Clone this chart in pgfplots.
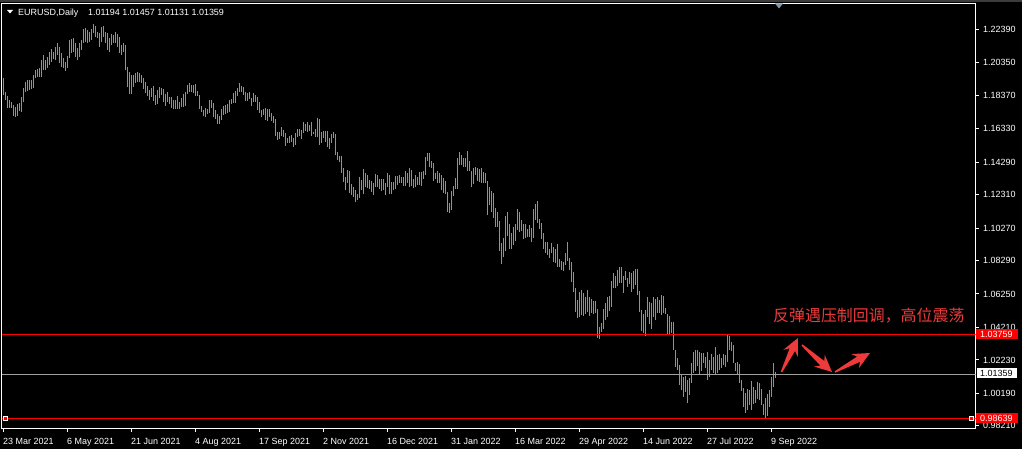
\documentclass[border=0pt]{standalone}
\usepackage{fontspec}
\setmainfont{Liberation Sans}
\newfontfamily\cjk{Noto Sans CJK SC}
\usepackage{pgfplots}
\usepackage{pgfplotstable}
\pgfplotsset{compat=1.18}
\usetikzlibrary{calc}
\definecolor{barcol}{RGB}{50,215,40}
\definecolor{annred}{RGB}{238,58,58}
\definecolor{hlgray}{RGB}{160,160,160}
\definecolor{stripgray}{RGB}{60,60,60}
\definecolor{markgray}{RGB}{130,150,170}
\newcommand\tickfont{\fontsize{9}{10}\selectfont}
% tapered block arrow, tail -> tip
\newcommand\fatarrow[2]{%
  \fill[annred] ($(#1)!0.8bp!90:(#2)$) -- ($(#2)!13bp!(#1)!3bp!-90:(#1)$)
    -- ($(#2)!17bp!(#1)!8bp!-90:(#1)$) -- (#2)
    -- ($(#2)!17bp!(#1)!8bp!90:(#1)$) -- ($(#2)!13bp!(#1)!3bp!90:(#1)$)
    -- ($(#1)!0.8bp!-90:(#2)$) -- cycle;}

% daily bars, high / low
\pgfplotstableread[row sep=\\]{
hi lo\\
1.1942 1.1838\\ 1.1857 1.1808\\ 1.1832 1.1759\\ 1.1808 1.1759\\ 1.1796 1.1759\\ 1.1777 1.1710\\ 1.1765 1.1704\\ 1.1784 1.1710\\ 1.1790 1.1741\\ 1.1826 1.1735\\
1.1881 1.1796\\ 1.1918 1.1857\\ 1.1930 1.1863\\ 1.1930 1.1869\\ 1.1930 1.1875\\ 1.1960 1.1881\\ 1.1991 1.1942\\ 1.1997 1.1948\\ 1.2003 1.1948\\ 1.2052 1.1948\\
1.2082 1.1991\\ 1.2052 1.1991\\ 1.2070 1.2003\\ 1.2101 1.2021\\ 1.2119 1.2040\\ 1.2101 1.2058\\ 1.2131 1.2052\\ 1.2156 1.2082\\ 1.2131 1.2034\\ 1.2095 1.2009\\
1.2064 1.2003\\ 1.2040 1.1985\\ 1.2076 1.2003\\ 1.2174 1.2064\\ 1.2180 1.2095\\ 1.2186 1.2101\\ 1.2156 1.2070\\ 1.2125 1.2052\\ 1.2156 1.2070\\ 1.2174 1.2113\\
1.2241 1.2156\\ 1.2247 1.2162\\ 1.2235 1.2156\\ 1.2223 1.2162\\ 1.2241 1.2174\\ 1.2272 1.2217\\ 1.2259 1.2192\\ 1.2223 1.2186\\ 1.2217 1.2131\\ 1.2253 1.2162\\
1.2259 1.2192\\ 1.2223 1.2156\\ 1.2217 1.2113\\ 1.2186 1.2101\\ 1.2211 1.2144\\ 1.2205 1.2156\\ 1.2223 1.2156\\ 1.2211 1.2131\\ 1.2192 1.2095\\ 1.2144 1.2082\\
1.2156 1.2101\\ 1.2144 1.1991\\ 1.2009 1.1887\\ 1.1979 1.1845\\ 1.1960 1.1845\\ 1.1960 1.1887\\ 1.1973 1.1912\\ 1.1979 1.1918\\ 1.1973 1.1918\\ 1.1960 1.1912\\
1.1942 1.1875\\ 1.1918 1.1851\\ 1.1894 1.1832\\ 1.1869 1.1808\\ 1.1881 1.1826\\ 1.1894 1.1802\\ 1.1838 1.1777\\ 1.1869 1.1784\\ 1.1887 1.1820\\ 1.1881 1.1838\\
1.1875 1.1796\\ 1.1845 1.1771\\ 1.1857 1.1796\\ 1.1826 1.1784\\ 1.1826 1.1759\\ 1.1808 1.1753\\ 1.1808 1.1753\\ 1.1832 1.1753\\ 1.1796 1.1753\\ 1.1820 1.1765\\
1.1845 1.1765\\ 1.1857 1.1771\\ 1.1900 1.1845\\ 1.1912 1.1857\\ 1.1900 1.1857\\ 1.1900 1.1851\\ 1.1906 1.1832\\ 1.1863 1.1832\\ 1.1838 1.1753\\ 1.1771 1.1735\\
1.1747 1.1710\\ 1.1759 1.1704\\ 1.1753 1.1723\\ 1.1808 1.1729\\ 1.1808 1.1759\\ 1.1790 1.1704\\ 1.1747 1.1692\\ 1.1723 1.1662\\ 1.1710 1.1662\\ 1.1753 1.1686\\
1.1771 1.1716\\ 1.1777 1.1723\\ 1.1784 1.1729\\ 1.1808 1.1735\\ 1.1814 1.1784\\ 1.1851 1.1790\\ 1.1863 1.1790\\ 1.1881 1.1832\\ 1.1912 1.1857\\ 1.1894 1.1857\\
1.1887 1.1838\\ 1.1857 1.1802\\ 1.1851 1.1802\\ 1.1857 1.1814\\ 1.1820 1.1771\\ 1.1851 1.1796\\ 1.1838 1.1796\\ 1.1826 1.1747\\ 1.1796 1.1729\\ 1.1747 1.1704\\
1.1753 1.1716\\ 1.1759 1.1686\\ 1.1753 1.1680\\ 1.1753 1.1704\\ 1.1729 1.1680\\ 1.1710 1.1668\\ 1.1692 1.1588\\ 1.1613 1.1564\\ 1.1613 1.1570\\ 1.1643 1.1588\\
1.1625 1.1582\\ 1.1607 1.1527\\ 1.1576 1.1546\\ 1.1588 1.1546\\ 1.1594 1.1552\\ 1.1576 1.1521\\ 1.1607 1.1533\\ 1.1631 1.1582\\ 1.1631 1.1588\\ 1.1625 1.1570\\
1.1674 1.1607\\ 1.1662 1.1619\\ 1.1674 1.1613\\ 1.1655 1.1619\\ 1.1674 1.1588\\ 1.1613 1.1601\\ 1.1631 1.1582\\ 1.1698 1.1582\\ 1.1692 1.1533\\ 1.1613 1.1546\\
1.1619 1.1576\\ 1.1619 1.1552\\ 1.1619 1.1521\\ 1.1576 1.1509\\ 1.1601 1.1546\\ 1.1613 1.1576\\ 1.1601 1.1472\\ 1.1491 1.1442\\ 1.1466 1.1430\\ 1.1466 1.1363\\
1.1393 1.1308\\ 1.1338 1.1259\\ 1.1381 1.1302\\ 1.1375 1.1241\\ 1.1296 1.1228\\ 1.1277 1.1216\\ 1.1259 1.1186\\ 1.1235 1.1198\\ 1.1338 1.1210\\ 1.1320 1.1259\\
1.1387 1.1235\\ 1.1363 1.1277\\ 1.1351 1.1271\\ 1.1320 1.1265\\ 1.1314 1.1247\\ 1.1302 1.1228\\ 1.1357 1.1277\\ 1.1351 1.1277\\ 1.1326 1.1265\\ 1.1326 1.1253\\
1.1326 1.1259\\ 1.1302 1.1228\\ 1.1363 1.1277\\ 1.1351 1.1235\\ 1.1308 1.1235\\ 1.1308 1.1259\\ 1.1344 1.1265\\ 1.1344 1.1290\\ 1.1351 1.1302\\ 1.1338 1.1302\\
1.1338 1.1283\\ 1.1375 1.1283\\ 1.1363 1.1302\\ 1.1393 1.1277\\ 1.1381 1.1283\\ 1.1326 1.1271\\ 1.1351 1.1277\\ 1.1338 1.1290\\ 1.1369 1.1290\\ 1.1369 1.1283\\
1.1375 1.1326\\ 1.1460 1.1351\\ 1.1485 1.1436\\ 1.1485 1.1399\\ 1.1436 1.1393\\ 1.1424 1.1314\\ 1.1363 1.1326\\ 1.1375 1.1302\\ 1.1363 1.1302\\ 1.1351 1.1259\\
1.1332 1.1241\\ 1.1314 1.1235\\ 1.1247 1.1125\\ 1.1180 1.1119\\ 1.1253 1.1137\\ 1.1283 1.1222\\ 1.1332 1.1265\\ 1.1454 1.1265\\ 1.1491 1.1412\\ 1.1472 1.1412\\
1.1454 1.1399\\ 1.1454 1.1399\\ 1.1497 1.1375\\ 1.1436 1.1375\\ 1.1375 1.1277\\ 1.1393 1.1296\\ 1.1399 1.1351\\ 1.1393 1.1314\\ 1.1387 1.1308\\ 1.1393 1.1302\\
1.1369 1.1302\\ 1.1363 1.1302\\ 1.1314 1.1107\\ 1.1277 1.1168\\ 1.1253 1.1125\\ 1.1241 1.1088\\ 1.1149 1.1033\\ 1.1125 1.1033\\ 1.1070 1.0887\\ 1.0936 1.0808\\
1.0966 1.0850\\ 1.1100 1.0887\\ 1.1125 1.0978\\ 1.1052 1.0899\\ 1.0997 1.0899\\ 1.1033 1.0924\\ 1.1052 1.0948\\ 1.1143 1.1015\\ 1.1125 1.1003\\ 1.1076 1.1009\\
1.1052 1.0960\\ 1.1052 1.0966\\ 1.1021 1.0972\\ 1.1046 1.0972\\ 1.1027 1.0942\\ 1.1143 1.0966\\ 1.1174 1.1076\\ 1.1192 1.1058\\ 1.1082 1.1021\\ 1.1058 1.0960\\
1.0997 1.0899\\ 1.0942 1.0875\\ 1.0942 1.0863\\ 1.0899 1.0844\\ 1.0936 1.0875\\ 1.0911 1.0820\\ 1.0899 1.0814\\ 1.0930 1.0789\\ 1.0838 1.0789\\ 1.0826 1.0771\\
1.0820 1.0765\\ 1.0875 1.0801\\ 1.0942 1.0826\\ 1.0844 1.0771\\ 1.0820 1.0698\\ 1.0759 1.0637\\ 1.0661 1.0515\\ 1.0588 1.0478\\ 1.0637 1.0484\\ 1.0649 1.0497\\
1.0631 1.0491\\ 1.0606 1.0503\\ 1.0649 1.0515\\ 1.0606 1.0491\\ 1.0594 1.0509\\ 1.0582 1.0503\\ 1.0582 1.0509\\ 1.0533 1.0356\\ 1.0423 1.0350\\ 1.0448 1.0393\\
1.0533 1.0411\\ 1.0570 1.0466\\ 1.0606 1.0484\\ 1.0612 1.0521\\ 1.0704 1.0545\\ 1.0753 1.0661\\ 1.0734 1.0661\\ 1.0771 1.0673\\ 1.0789 1.0692\\ 1.0789 1.0692\\
1.0734 1.0631\\ 1.0765 1.0710\\ 1.0722 1.0667\\ 1.0759 1.0686\\ 1.0753 1.0637\\ 1.0765 1.0655\\ 1.0777 1.0680\\ 1.0777 1.0618\\ 1.0643 1.0515\\ 1.0527 1.0399\\
1.0503 1.0387\\ 1.0527 1.0369\\ 1.0606 1.0484\\ 1.0576 1.0442\\ 1.0570 1.0411\\ 1.0606 1.0484\\ 1.0594 1.0466\\ 1.0606 1.0509\\ 1.0588 1.0509\\ 1.0618 1.0497\\
1.0612 1.0509\\ 1.0539 1.0503\\ 1.0503 1.0374\\ 1.0491 1.0374\\ 1.0454 1.0387\\ 1.0454 1.0283\\ 1.0283 1.0179\\ 1.0234 1.0161\\ 1.0192 1.0069\\ 1.0130 1.0039\\
1.0118 0.9996\\ 1.0124 1.0026\\ 1.0100 0.9960\\ 1.0112 1.0008\\ 1.0204 1.0082\\ 1.0271 1.0143\\ 1.0283 1.0155\\ 1.0283 1.0185\\ 1.0271 1.0130\\ 1.0265 1.0155\\
1.0265 1.0204\\ 1.0240 1.0173\\ 1.0271 1.0100\\ 1.0222 1.0118\\ 1.0259 1.0161\\ 1.0240 1.0143\\ 1.0301 1.0130\\ 1.0253 1.0143\\ 1.0259 1.0161\\ 1.0234 1.0173\\
1.0259 1.0192\\ 1.0253 1.0179\\ 1.0374 1.0210\\ 1.0368 1.0283\\ 1.0332 1.0277\\ 1.0313 1.0204\\ 1.0204 1.0155\\ 1.0210 1.0130\\ 1.0198 1.0082\\ 1.0100 1.0033\\
1.0051 0.9935\\ 1.0021 0.9899\\ 1.0045 0.9917\\ 1.0039 0.9948\\ 1.0094 0.9917\\ 1.0057 0.9954\\ 1.0039 0.9960\\ 1.0088 0.9984\\ 1.0082 0.9978\\ 1.0045 0.9948\\
0.9954 0.9887\\ 0.9990 0.9864\\ 1.0015 0.9880\\ 1.0039 0.9935\\ 1.0118 0.9996\\ 1.0204 1.0057\\ 1.0146 1.0113\\
}\bars

\begin{document}
\begin{tikzpicture}
\path[use as bounding box] (0,0) rectangle (1022bp,449bp);
\fill[black] (0,0) rectangle (1022bp,449bp);
\fill[stripgray] (0,446.5bp) rectangle (1022bp,449bp);

\begin{axis}[
  at={(1.5bp,20.5bp)}, anchor=south west,
  scale only axis, width=974bp, height=425bp,
  xmin=-1, xmax=486, ymin=0.980415, ymax=1.239665,
  axis line style={white, line width=1bp},
  xtick pos=bottom, ytick pos=right, yticklabel pos=right,
  tick align=outside, major tick length=3bp,
  tick style={white, line width=1bp},
  xtick={0,32,...,384},
  xticklabels={23 Mar 2021,6 May 2021,21 Jun 2021,4 Aug 2021,17 Sep 2021,2 Nov 2021,16 Dec 2021,31 Jan 2022,16 Mar 2022,29 Apr 2022,14 Jun 2022,27 Jul 2022,9 Sep 2022},
  ytick={1.22390,1.20350,1.18370,1.16330,1.14290,1.12310,1.10270,1.08290,1.06250,1.04210,1.02230,1.00190,0.98210},
  yticklabels={1.22390,1.20350,1.18370,1.16330,1.14290,1.12310,1.10270,1.08290,1.06250,1.04210,1.02230,1.00190,0.98210},
  ticklabel style={font=\tickfont, text=white, inner sep=0pt},
  xticklabel style={anchor=base west, xshift=-0.5bp, yshift=-12.5bp},
  yticklabel style={anchor=base west, xshift=4.5bp, yshift=-3.2bp},
]
\addplot[draw=none, mark=none,
  error bars/.cd, y dir=minus, y explicit, error mark=none,
  error bar style={line width=1bp, draw=barcol}]
  table[x expr=\coordindex, y=hi, y error minus expr=\thisrow{hi}-\thisrow{lo}] {\bars};
\addplot[red, line width=1bp] coordinates {(-1,1.03759) (486,1.03759)};
\addplot[hlgray, line width=1bp] coordinates {(-1,1.01359) (486,1.01359)};
\addplot[red, line width=1bp] coordinates {(-1,0.98639) (486,0.98639)};
\end{axis}

\begin{scope}[shift={(0bp,449bp)}, x=1bp, y=-1bp]
  % chart header
  \fill[white] (7,10) -- (13,10) -- (10,13.5) -- cycle;
  \node[anchor=base west, inner sep=0, text=white, font=\tickfont] at (18,15.5) {EURUSD,Daily};
  \node[anchor=base west, inner sep=0, text=white, font=\tickfont] at (88,15.5) {1.01194 1.01457 1.01131 1.01359};
  \fill[markgray] (775,3.5) -- (783,3.5) -- (779,8.5) -- cycle;
  % anchor squares on the support line
  \filldraw[fill=red, draw=white, line width=0.8bp] (3.5,416.5) rectangle (7.5,420.5);
  \filldraw[fill=red, draw=white, line width=0.8bp] (969.5,416.5) rectangle (973.5,420.5);
  % price tags
  \fill[red] (976,329.5) rectangle (1018,339.5);
  \node[anchor=base west, inner sep=0, text=white, font=\tickfont] at (980,337.7) {1.03759};
  \fill[white] (977,368) rectangle (1017,378);
  \node[anchor=base west, inner sep=0, text=black, font=\tickfont] at (980,376.2) {1.01359};
  \fill[red] (976,413) rectangle (1018,423);
  \node[anchor=base west, inner sep=0, text=white, font=\tickfont] at (980,421.2) {0.98639};
  % annotation
  \node[anchor=west, inner sep=0, text=annred] at (773,316) {\cjk\fontsize{16}{16}\selectfont 反弹遇压制回调，高位震荡};
  \fatarrow{781.5,372}{798,338}
  \fatarrow{802,345}{832,372}
  \fatarrow{835,372}{870,353}
\end{scope}
\end{tikzpicture}
\end{document}
